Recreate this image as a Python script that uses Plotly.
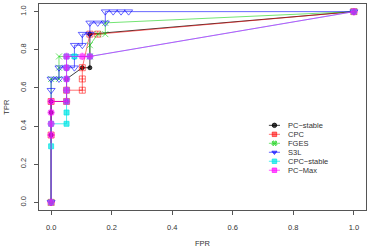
import plotly.graph_objects as go

# ROC points (FPR, TPR)
pcstable_fpr = [0, 0, 0, 0, 0.051, 0.051, 0.103, 0.128, 0.128, 1.0]
pcstable_tpr = [0, 0.353, 0.471, 0.529, 0.529, 0.647, 0.706, 0.706, 0.882, 1.0]

cpc_fpr = [0, 0, 0, 0.051, 0.051, 0.103, 0.103, 0.103, 0.128, 0.154, 1.0]
cpc_tpr = [0, 0.353, 0.529, 0.529, 0.588, 0.588, 0.647, 0.706, 0.882, 0.882, 1.0]

fges_fpr = [0, 0, 0.026, 0.026, 0.026, 0.128, 0.128, 0.154, 0.179, 0.179, 1.0]
fges_tpr = [0, 0.647, 0.647, 0.706, 0.765, 0.765, 0.824, 0.882, 0.882, 0.941, 1.0]

s3l_fpr = [0, 0, 0, 0.026, 0.026, 0.051, 0.077, 0.077, 0.077, 0.103, 0.103,
           0.128, 0.128, 0.154, 0.179, 0.179, 0.205, 0.231, 0.256, 1.0]
s3l_tpr = [0, 0.588, 0.647, 0.647, 0.706, 0.706, 0.706, 0.765, 0.824, 0.824, 0.882,
           0.882, 0.941, 0.941, 0.941, 1.0, 1.0, 1.0, 1.0, 1.0]

cpcstable_fpr = [0, 0, 0, 0.051, 0.051, 0.051, 0.051, 0.051, 0.051, 0.051, 0.077, 0.128, 1.0]
cpcstable_tpr = [0, 0.294, 0.412, 0.412, 0.471, 0.529, 0.588, 0.647, 0.706, 0.765, 0.765, 0.765, 1.0]

pcmax_fpr = [0, 0, 0, 0, 0, 0.051, 0.051, 0.051, 0.051, 0.051, 0.103, 0.128, 1.0]
pcmax_tpr = [0, 0.353, 0.412, 0.471, 0.529, 0.529, 0.588, 0.647, 0.706, 0.765, 0.765, 0.765, 1.0]

names = ["PC\u2212stable", "CPC", "FGES", "S3L", "CPC\u2212stable", "PC\u2212Max"]
tick_vals = [0.0, 0.2, 0.4, 0.6, 0.8, 1.0]
tick_text = ["0.0", "0.2", "0.4", "0.6", "0.8", "1.0"]

colors = ["rgba(0,0,0,0.75)", "rgba(255,0,0,0.55)", "rgba(0,205,0,0.55)",
          "rgba(0,0,255,0.6)", "rgba(0,230,230,0.7)", "rgba(255,0,255,0.65)"]
symbols = ["circle", "square-cross-open", "x-thin-open", "triangle-down-open", "square", "asterisk-open"]
legend_symbols = ["circle", "square", "x", "triangle-down", "square", "square"]
sizes = [4, 6, 6, 7, 5, 6]
widths = [1, 1, 1, 1, 1, 2]
data = [(pcstable_fpr, pcstable_tpr), (cpc_fpr, cpc_tpr), (fges_fpr, fges_tpr),
        (s3l_fpr, s3l_tpr), (cpcstable_fpr, cpcstable_tpr), (pcmax_fpr, pcmax_tpr)]

font = "Liberation Sans, Arial, sans-serif"
txtcol = "#333333"
fig = go.Figure()
for (fx, fy), nm, col, sym, sz, lw in zip(data, names, colors, symbols, sizes, widths):
    fig.add_trace(go.Scatter(
        x=fx, y=fy, mode="lines+markers", name=nm, showlegend=False,
        line=dict(color=col, width=1),
        marker=dict(symbol=sym, size=sz, color=col, line=dict(color=col, width=lw)),
    ))

# manual compact legend (R style) on an overlay axis spanning the plot box
leg_y0, leg_dy = 0.411, 0.0436
annotations = []
for i, (nm, col, sym) in enumerate(zip(names, colors, legend_symbols)):
    yy = leg_y0 - i * leg_dy
    fig.add_trace(go.Scatter(
        x=[0.703, 0.737], y=[yy, yy], mode="lines", xaxis="x2", yaxis="y2",
        line=dict(color=col, width=1), showlegend=False, hoverinfo="skip"))
    fig.add_trace(go.Scatter(
        x=[0.720], y=[yy], mode="markers", xaxis="x2", yaxis="y2",
        marker=dict(symbol=sym, size=4.5, color=col, line=dict(color=col, width=1)),
        showlegend=False, hoverinfo="skip"))
    annotations.append(dict(text=nm, x=0.755, y=yy, xref="paper", yref="paper",
                            showarrow=False, xanchor="left", yanchor="middle",
                            font=dict(family=font, size=7.5, color=txtcol)))

axcol = "#555555"
common = dict(range=[-0.04, 1.04], showgrid=False, zeroline=False, showline=True,
              mirror=True, linecolor=axcol, linewidth=1, ticks="outside", ticklen=4,
              tickcolor=axcol, tickvals=tick_vals, ticktext=tick_text, automargin=False,
              tickfont=dict(family=font, size=7.5, color=txtcol))
fig.update_layout(
    xaxis=dict(**common, ticklabelstandoff=6),
    yaxis=dict(**common, tickangle=-90, ticklabelstandoff=5),
    xaxis2=dict(overlaying="x", range=[0, 1], visible=False, fixedrange=True, automargin=False),
    yaxis2=dict(overlaying="y", range=[0, 1], visible=False, fixedrange=True, automargin=False),
)

annotations += [
    dict(text="FPR", x=0.5, y=-0.165, xref="paper", yref="paper",
         showarrow=False, xanchor="center", yanchor="middle",
         font=dict(family=font, size=7.5, color=txtcol)),
    dict(text="TPR", x=-0.102, y=0.5, xref="paper", yref="paper",
         showarrow=False, xanchor="center", yanchor="middle", textangle=-90,
         font=dict(family=font, size=7.5, color=txtcol)),
]

fig.update_layout(
    width=374, height=250,
    margin=dict(l=39, r=8, t=4, b=40, autoexpand=False),
    plot_bgcolor="white", paper_bgcolor="white",
    font=dict(family=font, size=7.5, color=txtcol),
    showlegend=False, hovermode=False,
    annotations=annotations,
)
fig.write_html("out.html", config={"displayModeBar": False, "staticPlot": True},
               post_script="document.body.style.margin='0';document.body.style.overflow='hidden';")
